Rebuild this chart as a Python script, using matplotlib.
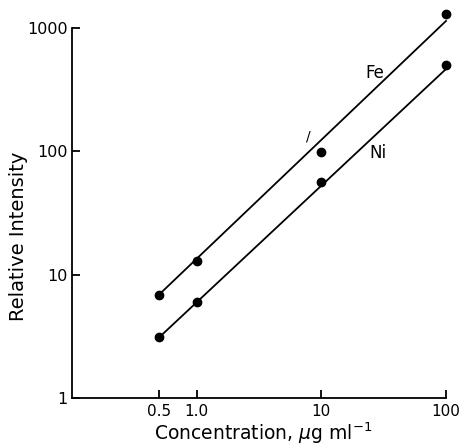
import matplotlib
matplotlib.use("Agg")
import matplotlib.pyplot as plt
import numpy as np
from matplotlib.ticker import FixedLocator, FixedFormatter, NullLocator

conc = [0.5, 1.0, 10, 100]
fe_points = [6.9, 12.8, 98, 1300]
ni_points = [3.1, 6.0, 56, 500]
fe_line_x = [0.5, 100]
fe_line_y = [6.9, 1140]
ni_line_x = [0.5, 100]
ni_line_y = [3.1, 465]
x_ticks = [0.5, 1.0, 10, 100]
x_tick_labels = ["0.5", "1.0", "10", "100"]
y_ticks = [1, 10, 100, 1000]
y_tick_labels = ["1", "10", "100", "1000"]

plt.rcParams['font.family'] = ['DejaVu Sans']
fig = plt.figure(figsize=(4.59, 4.45), dpi=100)
ax = fig.add_axes([72/459, 1-398/445, (446-72)/459, (398-28)/445])

ax.plot(fe_line_x, fe_line_y, color='black', lw=1.3, clip_on=False)
ax.plot(ni_line_x, ni_line_y, color='black', lw=1.3, clip_on=False)
ax.plot(conc, fe_points, 'o', color='black', ms=6, clip_on=False)
ax.plot(conc, ni_points, 'o', color='black', ms=6, clip_on=False)

ax.set_xscale('log')
ax.set_yscale('log')
ax.set_xlim(0.1, 100)
ax.set_ylim(1, 1000)

ax.xaxis.set_major_locator(FixedLocator(x_ticks))
ax.xaxis.set_major_formatter(FixedFormatter(x_tick_labels))
ax.yaxis.set_major_locator(FixedLocator(y_ticks))
ax.yaxis.set_major_formatter(FixedFormatter(y_tick_labels))
ax.xaxis.set_minor_locator(NullLocator())
ax.yaxis.set_minor_locator(NullLocator())
ax.tick_params(direction='in', length=6, width=1.3, labelsize=11.5)
ax.tick_params(axis='x', pad=4, labelsize=11)
ax.tick_params(axis='y', pad=3)

for s in ['top', 'right']:
    ax.spines[s].set_visible(False)
for s in ['left', 'bottom']:
    ax.spines[s].set_linewidth(1.3)

ax.text(27, 432, "Fe", fontsize=12, ha='center', va='center')
ax.text(28.7, 97, "Ni", fontsize=12, ha='center', va='center')
ax.text(7.9, 131, "/", fontsize=10, ha='center', va='center')

fig.text(263/459, 1-440/445, "Concentration, $\\mu$g ml$^{-1}$", fontsize=13.5,
         ha='center', va='baseline')
fig.text(19/459, 1-236/445, "Relative Intensity", fontsize=14, rotation=90,
         ha='center', va='center')

fig.savefig("out.png", dpi=100)
